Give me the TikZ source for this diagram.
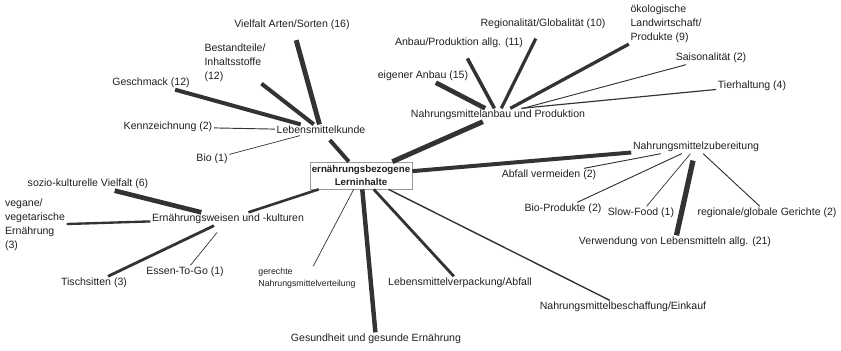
\documentclass[tikz,border=0pt]{standalone}
\usepackage{fontspec}
\setmainfont{Liberation Sans}
\definecolor{inkline}{HTML}{333333}
\definecolor{inktext}{HTML}{1F1F1F}
\definecolor{boxgray}{HTML}{9A9A9A}
\tikzset{
  topic/.style={inner sep=1.5pt, outer sep=0pt, text=inktext,
    font=\fontsize{9}{11.9}\selectfont},
  topicl/.style={topic, align=left},
  smalltopic/.style={topic, align=left, font=\fontsize{7.5}{10.2}\selectfont},
  rootbox/.style={draw=boxgray, line width=0.6pt, fill=white, align=center,
    inner sep=1pt, minimum width=3.06cm, minimum height=0.81cm,
    font=\fontsize{8.3}{11}\selectfont\bfseries, text=inktext},
  % line width grows with the count
  strand/.style={draw=inkline, line width=#1},
  strand/.default=0.8pt,
}

\begin{document}
\begin{tikzpicture}[x=0.03cm,y=-0.03cm]
  \useasboundingbox (0,0) rectangle (841,350);
  % centre
  \node[rootbox] (root) at (361,175.5) {ernährungsbezogene\\Lerninhalte};
  % Lebensmittelkunde
  \node[topic] (kunde) at (321,130) {Lebensmittelkunde};
  \node[topic] (geschmack) at (151,83) {Geschmack (12)};
  \node[topicl] (bestand) at (235,63) {Bestandteile/\\Inhaltsstoffe\\(12)};
  \node[topic] (vielfalt) at (292,25) {Vielfalt Arten/Sorten (16)};
  \node[topic] (kennz) at (168,127) {Kennzeichnung (2)};
  \node[topic] (bio) at (212,159) {Bio (1)};
  % Anbau und Produktion
  \node[topic] (anbau) at (498,115) {Nahrungsmittelanbau und Produktion};
  \node[topic] (eigen) at (423,76) {eigener Anbau (15)};
  \node[topic] (anbauallg) at (459,43) {Anbau/Produktion allg. (11)};
  \node[topic] (regio) at (543,24) {Regionalität/Globalität (10)};
  \node[topicl] (oeko) at (666,24) {ökologische\\Landwirtschaft/\\Produkte (9)};
  \node[topic] (saison) at (711,58) {Saisonalität (2)};
  \node[topic] (tier) at (752,86) {Tierhaltung (4)};
  % Zubereitung
  \node[topic] (zubereit) at (696,147) {Nahrungsmittelzubereitung};
  \node[topic] (abfall) at (549,175) {Abfall vermeiden (2)};
  \node[topic] (bioprod) at (563,209) {Bio-Produkte (2)};
  \node[topic] (slow) at (641,213) {Slow-Food (1)};
  \node[topic] (verw) at (675,242) {Verwendung von Lebensmitteln allg. (21)};
  \node[topic] (gerichte) at (767,213) {regionale/globale Gerichte (2)};
  % Ernährungsweisen
  \node[topic] (weisen) at (228,219) {Ernährungsweisen und -kulturen};
  \node[topic] (sozio) at (88,184) {sozio-kulturelle Vielfalt (6)};
  \node[topicl] (vegan) at (35,225) {vegane/\\vegetarische\\Ernährung\\(3)};
  \node[topic] (tisch) at (94,283) {Tischsitten (3)};
  \node[topic] (togo) at (185,272) {Essen-To-Go (1)};
  % directly below the centre
  \node[smalltopic] (gerecht) at (307,278) {gerechte\\Nahrungsmittelverteilung};
  \node[topic] (gesund) at (376,339) {Gesundheit und gesunde Ernährung};
  \node[topic] (verpack) at (460,283) {Lebensmittelverpackung/Abfall};
  \node[topic] (einkauf) at (623,307) {Nahrungsmittelbeschaffung/Einkauf};

  % connectors
  \draw[strand=3.4pt, shorten <=5pt] (kunde) -- (root);
  \draw[strand=3.4pt] (geschmack) -- (kunde);
  \draw[strand=3.4pt] (bestand) -- (kunde);
  \draw[strand=4.2pt, shorten <=7.5pt] (vielfalt) -- (kunde);
  \draw[strand=0.8pt] (kennz) -- (kunde);
  \draw[strand=0.6pt] (bio) -- (kunde);

  \draw[strand=4.2pt] (anbau) -- (root);
  \draw[strand=4pt] (eigen) -- (anbau);
  \draw[strand=3pt, shorten <=8.5pt] (anbauallg) -- (anbau);
  \draw[strand=2.7pt, shorten <=7.5pt] (regio) -- (anbau);
  \draw[strand=2.8pt] (oeko) -- (anbau);
  \draw[strand=0.8pt] (saison) -- (anbau);
  \draw[strand=1pt] (tier) -- (anbau.16);

  \draw[strand=3.4pt] (zubereit) -- (root);
  \draw[strand=0.8pt] (abfall) -- (zubereit);
  \draw[strand=0.8pt] (bioprod) -- (zubereit);
  \draw[strand=0.6pt] (slow) -- (zubereit);
  \draw[strand=4.5pt, shorten >=6pt] (verw) -- (zubereit);
  \draw[strand=0.8pt] (gerichte) -- (zubereit);

  \draw[strand=2.2pt] (weisen) -- (root);
  \draw[strand=4pt] (sozio) -- (weisen);
  \draw[strand=2pt] (vegan) -- (weisen);
  \draw[strand=2.4pt] (tisch) -- (weisen);
  \draw[strand=0.6pt, shorten >=7.5pt] (togo) -- (weisen);

  \draw[strand=0.6pt] (gerecht) -- (root);
  \draw[strand=3.8pt] (gesund) -- (root);
  \draw[strand=2.4pt] (verpack) -- (root);
  \draw[strand=1.2pt] (einkauf) -- (root);
\end{tikzpicture}
\end{document}
